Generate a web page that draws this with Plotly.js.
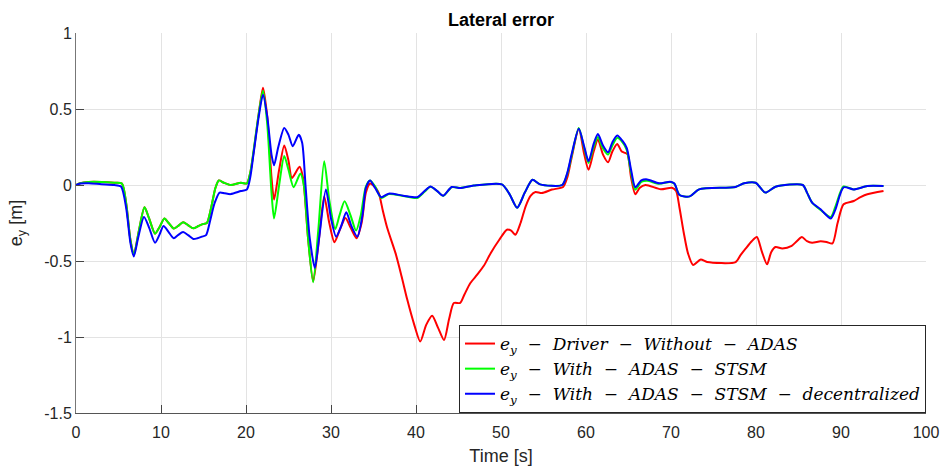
<!DOCTYPE html>
<html>
<head>
<meta charset="utf-8">
<script src="https://cdn.plot.ly/plotly-3.0.1.min.js"></script>
<style>html,body{margin:0;padding:0;background:#fff;}#chart{width:942px;height:468px;}</style>
</head>
<body>
<div id="chart"></div>
<script>
// Time [s] and lateral error e_y [m] for each series
const tRed = [0,0.5,1.5,3,4.5,5.4,5.9,6.4,6.8,7.4,8.06,8.6,9.3,9.8,10.4,10.9,11.5,12.0,12.6,13.2,13.8,14.4,15.0,15.4,15.9,16.4,16.8,17.4,18.2,19.4,20.1,20.5,20.9,21.5,22.0,22.5,23.0,23.3,23.9,24.5,25.0,25.4,26.3,26.7,27.3,27.9,28.5,29.2,29.8,30.4,31.0,31.7,32.3,33.0,33.6,34.1,34.6,35.1,35.6,36.1,36.6,37.6,38.3,38.97,39.8,40.5,41.2,41.9,42.6,43.3,43.9,44.45,45.2,45.7,46.4,47.2,48.0,48.8,49.8,50.7,51.2,51.7,52.3,52.9,53.5,54.06,54.8,56.0,57.3,57.8,58.3,59.15,59.8,60.3,60.9,61.4,62.0,62.6,63.1,63.67,64.2,64.65,64.9,65.3,65.8,66.3,67.0,68.8,70.1,70.6,71.0,71.5,72.0,72.6,73.5,74.25,77.6,78.2,78.8,79.5,80.1,80.7,81.3,81.8,82.3,83.1,84.2,84.8,85.4,86.0,86.6,87.6,88.3,89.0,89.6,90.3,91.5,92.3,93.1,95.0];
const eyRed = [0,0.012,0.02,0.02,0.015,0.01,-0.12,-0.36,-0.46,-0.3,-0.147,-0.22,-0.32,-0.28,-0.22,-0.25,-0.287,-0.27,-0.245,-0.265,-0.285,-0.27,-0.256,-0.25,-0.15,-0.02,0.03,0.015,0,0.015,0.01,0.08,0.22,0.47,0.64,0.45,0.05,-0.096,0.1,0.26,0.16,0.046,0.12,0.05,-0.35,-0.634,-0.4,-0.075,-0.25,-0.377,-0.3,-0.217,-0.28,-0.35,-0.25,-0.05,0.01,-0.01,-0.05,-0.17,-0.28,-0.45,-0.6,-0.754,-0.92,-1.03,-0.92,-0.86,-0.94,-1.02,-0.88,-0.776,-0.776,-0.72,-0.645,-0.59,-0.53,-0.447,-0.36,-0.294,-0.3,-0.327,-0.25,-0.14,-0.07,-0.046,-0.053,-0.03,-0.013,0.05,0.178,0.37,0.2,0.1,0.22,0.3,0.2,0.15,0.22,0.27,0.22,0.21,0.2,0.05,-0.061,-0.02,0,-0.028,-0.018,-0.04,-0.15,-0.314,-0.45,-0.526,-0.49,-0.507,-0.507,-0.46,-0.417,-0.37,-0.342,-0.44,-0.522,-0.44,-0.408,-0.417,-0.40,-0.37,-0.342,-0.37,-0.38,-0.37,-0.375,-0.384,-0.25,-0.127,-0.105,-0.08,-0.061,-0.04];

const tGreen = [0,0.5,1.5,3,4.5,5.4,5.9,6.4,6.8,7.4,8.06,8.6,9.3,9.8,10.4,10.9,11.5,12.0,12.6,13.2,13.8,14.4,15.0,15.4,15.9,16.4,16.8,17.4,18.2,19.4,20.1,20.5,20.9,21.5,22.0,22.5,23.0,23.3,23.9,24.5,25.0,25.6,26.4,26.8,27.3,27.9,28.5,29.2,29.8,30.5,31.0,31.6,32.3,32.95,33.5,34.1,34.6,35.2,35.9,36.8,38.5,40.15,41.0,41.7,42.5,43.2,44.2,45.2,46.8,50.1,51.0,51.9,52.8,53.7,54.6,57.2,57.8,58.3,59.15,59.8,60.3,60.9,61.4,62.0,62.6,63.1,63.67,64.3,64.8,65.3,65.8,66.5,67.2,68.6,69.9,70.4,71.0,72.2,73.3,77.6,78.6,79.95,81.1,82.3,85.5,86.0,86.6,87.6,88.8,89.35,90.3,91.5,93.1,95.0];
const eyGreen = [0,0.012,0.02,0.02,0.015,0.01,-0.12,-0.36,-0.46,-0.3,-0.147,-0.22,-0.32,-0.28,-0.22,-0.25,-0.287,-0.27,-0.245,-0.265,-0.285,-0.27,-0.256,-0.25,-0.15,-0.02,0.03,0.015,0,0.015,0.01,0.08,0.23,0.47,0.62,0.4,-0.05,-0.22,0.0,0.19,0.1,-0.015,0.075,0.0,-0.35,-0.64,-0.3,0.156,-0.1,-0.29,-0.2,-0.107,-0.2,-0.30,-0.2,-0.01,0.03,-0.01,-0.085,-0.06,-0.072,-0.085,-0.045,-0.012,-0.04,-0.072,-0.015,-0.02,-0.004,0.004,-0.06,-0.15,-0.05,0.035,0.004,0,0.075,0.19,0.375,0.24,0.145,0.25,0.316,0.24,0.2,0.26,0.31,0.28,0.23,0.08,-0.03,0.02,0.028,0.008,0.02,0.008,-0.066,-0.075,-0.029,-0.013,0.011,0.015,-0.05,-0.011,0,-0.05,-0.116,-0.165,-0.21,-0.14,-0.01,-0.029,-0.007,-0.007];

const tBlue = [0,0.5,1.5,3,4.5,5.3,5.9,6.4,6.8,7.3,8.0,8.6,9.3,9.8,10.3,10.9,11.5,12.0,12.6,13.2,13.8,14.3,14.8,15.3,15.8,16.3,16.9,17.5,18.2,19.4,20.1,20.5,20.9,21.5,22.0,22.5,23.0,23.3,23.8,24.5,25.0,25.5,26.2,26.6,27.0,27.5,28.1,28.6,29.4,30.0,30.6,31.2,31.8,32.4,33.1,33.7,34.1,34.6,35.2,35.9,36.8,38.5,40.15,41.0,41.7,42.5,43.2,44.2,45.2,46.8,50.1,51.0,51.9,52.8,53.7,54.6,57.2,57.8,58.3,59.15,59.8,60.3,60.9,61.4,62.0,62.6,63.1,63.67,64.3,64.8,65.3,65.8,66.5,67.2,68.6,69.9,70.4,71.0,72.2,73.3,77.6,78.6,79.95,81.1,82.3,85.5,86.0,86.6,87.6,88.8,89.35,90.3,91.5,93.1,95.0];
const eyBlue = [0,0.01,0.012,0.005,0,-0.01,-0.15,-0.38,-0.47,-0.35,-0.21,-0.28,-0.38,-0.33,-0.27,-0.31,-0.35,-0.33,-0.31,-0.33,-0.355,-0.35,-0.34,-0.33,-0.23,-0.12,-0.05,-0.055,-0.06,-0.04,-0.03,0.05,0.21,0.45,0.594,0.45,0.2,0.13,0.25,0.375,0.33,0.255,0.33,0.28,0.0,-0.35,-0.546,-0.35,-0.03,-0.22,-0.34,-0.27,-0.18,-0.27,-0.34,-0.2,-0.02,0.03,-0.02,-0.08,-0.057,-0.07,-0.08,-0.04,-0.01,-0.04,-0.07,-0.013,-0.02,-0.004,0.004,-0.06,-0.15,-0.05,0.035,0.004,0,0.08,0.2,0.37,0.25,0.156,0.27,0.335,0.26,0.215,0.28,0.325,0.29,0.243,0.1,-0.015,0.03,0.037,0.011,0.022,0.01,-0.066,-0.075,-0.029,-0.013,0.011,0.015,-0.05,-0.011,0,-0.05,-0.116,-0.16,-0.22,-0.16,-0.015,-0.029,-0.007,-0.007];

const OP = '\u00a0\u00a0−\u00a0\u00a0';
const seriesNames = [
  '<i>e</i><sub><i>y</i></sub>' + OP + '<i>Driver</i>' + OP + '<i>Without</i>' + OP + '<i>ADAS</i>',
  '<i>e</i><sub><i>y</i></sub>' + OP + '<i>With</i>' + OP + '<i>ADAS</i>' + OP + '<i>STSM</i>',
  '<i>e</i><sub><i>y</i></sub>' + OP + '<i>With</i>' + OP + '<i>ADAS</i>' + OP + '<i>STSM</i>' + OP + '<i>decentralized</i>'
];
const xTicks = [0,10,20,30,40,50,60,70,80,90,100];
const yTicks = [-1.5,-1,-0.5,0,0.5,1];
const yTickText = ['-1.5','-1','-0.5','0','0.5','1'];

const lineShape = {shape:'spline', smoothing:0.7, width:2};
const traces = [
  {x:tRed, y:eyRed, name:seriesNames[0], mode:'lines', line:Object.assign({color:'#ff0000'}, lineShape)},
  {x:tGreen, y:eyGreen, name:seriesNames[1], mode:'lines', line:Object.assign({color:'#00ff00'}, lineShape)},
  {x:tBlue, y:eyBlue, name:seriesNames[2], mode:'lines', line:Object.assign({color:'#0000ff'}, lineShape)}
];

const sans = 'Liberation Sans, Arial, sans-serif';
const tickFont = {family:sans, size:16, color:'#262626'};
const layout = {
  width:942, height:468,
  margin:{l:75.5, r:16, t:33, b:55},
  paper_bgcolor:'#ffffff', plot_bgcolor:'#ffffff',
  showlegend:true,
  title:{text:'<b>Lateral error</b>', x:0.5, xref:'paper', y:0.958, yref:'container', yanchor:'middle',
         font:{family:sans, size:18, color:'#000000'}},
  xaxis:{range:[0,100], tickvals:xTicks, ticktext:xTicks.map(String), showgrid:true, gridcolor:'#e3e3e3', gridwidth:1,
         zeroline:false, showline:true, linecolor:'#555555', linewidth:1, mirror:false,
         ticks:'inside', ticklen:8, tickcolor:'#444', tickfont:tickFont, ticklabelstandoff:5,
         title:{text:'Time [s]', font:{family:sans, size:18, color:'#262626'}, standoff:9}},
  yaxis:{range:[-1.5,1], tickvals:yTicks, ticktext:yTickText, showgrid:true, gridcolor:'#e3e3e3', gridwidth:1,
         zeroline:false, showline:true, linecolor:'#777777', linewidth:1, mirror:false,
         ticks:'inside', ticklen:8, tickcolor:'#444', tickfont:tickFont,
         title:{text:'e<sub>y</sub> [m]', font:{family:sans, size:18, color:'#262626'}, standoff:16}},
  legend:{x:1, y:0, xanchor:'right', yanchor:'bottom', bgcolor:'#ffffff', bordercolor:'#262626', borderwidth:1,
          font:{family:'DejaVu Serif, Liberation Serif, serif', size:17, color:'#000000'}, tracegroupgap:0, itemwidth:30}
};

Plotly.newPlot('chart', traces, layout, {displayModeBar:false, staticPlot:true});
</script>
</body>
</html>
